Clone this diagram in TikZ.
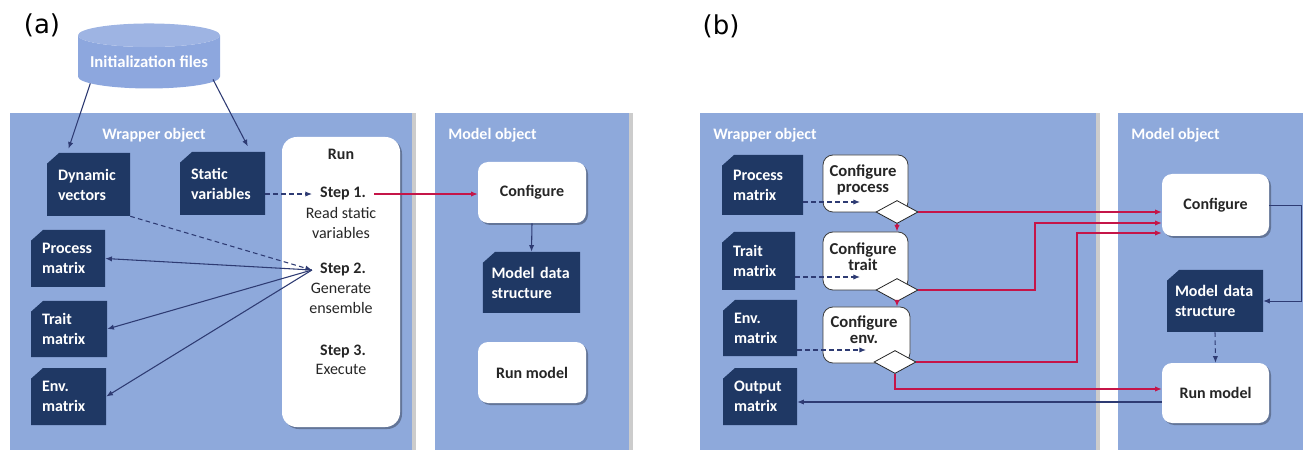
\documentclass[tikz,border=0pt]{standalone}
\usepackage{fontspec}
\setmainfont{Carlito}
\newfontfamily\labelfont{DejaVu Sans}
\usetikzlibrary{shapes.geometric, arrows.meta, positioning, shadows}

\definecolor{panelblue}{HTML}{8EA9DB}
\definecolor{cylblue}{HTML}{8DA7DE}
\definecolor{navybox}{HTML}{1F3864}
\definecolor{navyline}{HTML}{2E3B73}
\definecolor{redline}{HTML}{C51548}
\definecolor{textgray}{HTML}{262626}

\tikzset{
  panel/.style={fill=panelblue, drop shadow={shadow xshift=3pt, shadow yshift=0pt, opacity=.2, fill=black}},
  paneltitle/.style={text=white, font=\bfseries\fontsize{12}{14}\selectfont, inner sep=0pt},
  docbox/.style={rectangle, inner xsep=8.25pt, inner ysep=0pt, align=left, text=white,
    font=\bfseries\fontsize{12}{15}\selectfont,
    path picture={\fill[navybox] (path picture bounding box.south west) -- (path picture bounding box.south east)
      -- (path picture bounding box.north east) -- ([xshift=9pt]path picture bounding box.north west)
      -- ([yshift=-8pt]path picture bounding box.north west) -- cycle;}},
  whitebox/.style={rectangle, rounded corners=7.5pt, fill=white, text=textgray,
    font=\bfseries\fontsize{12}{14}\selectfont,
    drop shadow={shadow xshift=1.5pt, shadow yshift=-1.5pt, opacity=.3, fill=black}},
  initdb/.style={cylinder, shape border rotate=90, aspect=0.2, minimum width=106.5pt, minimum height=48.75pt,
    cylinder uses custom fill, cylinder body fill=cylblue, cylinder end fill=cylblue!85!white,
    text=white, font=\bfseries\fontsize{12.5}{14}\selectfont, inner sep=0pt},
  cfgbox/.style={rectangle, rounded corners=7.5pt, fill=white, draw=textgray!90, line width=0.6pt},
  cfgtext/.style={text=textgray, font=\bfseries\fontsize{12.5}{12}\selectfont, align=center, inner sep=0pt},
  gate/.style={diamond, fill=white, draw=textgray, line width=0.6pt, minimum width=31.5pt,
    minimum height=17.25pt, inner sep=0pt},
  steptitle/.style={text=textgray, font=\bfseries\fontsize{12}{15}\selectfont, inner xsep=6pt, inner ysep=1pt, anchor=base},
  steptext/.style={text=textgray, font=\fontsize{12}{15}\selectfont, align=center, inner sep=0pt, anchor=north},
  navyarrow/.style={navyline, line width=0.8pt, -{Latex[length=5pt,width=4pt]}},
  dasharrow/.style={navyarrow, dash pattern=on 3.5pt off 2.5pt},
  redarrow/.style={redline, line width=0.9pt, -{Latex[length=5pt,width=4pt]}}
}

\begin{document}
\begin{tikzpicture}[x=0.75pt, y=-0.75pt]
    \useasboundingbox (0,0) rectangle (1303,452);

    % Panels
    \fill[panel] (10,113) rectangle (412,450);
    \fill[panel] (435,113) rectangle (629,450);
    \fill[panel] (700,113) rectangle (1096,450);
    \fill[panel] (1118,113) rectangle (1303,450);

    \node[font=\labelfont\fontsize{19.5}{22}\selectfont] (lblA) at (42,25) {(a)};
    \node[font=\labelfont\fontsize{19.5}{22}\selectfont] (lblB) at (721,26) {(b)};

    \node[paneltitle] (wrapA) at (154,135) {Wrapper object};
    \node[paneltitle, anchor=west] (modA) at (448,135) {Model object};
    \node[paneltitle, anchor=west] (wrapB) at (713,135) {Wrapper object};
    \node[paneltitle, anchor=west] (modB) at (1131,135) {Model object};

    % (a) wrapper object
    \node[initdb] (init) at (149,62) {Initialization files};
    \node[docbox, text width=45.75pt, minimum height=47.25pt] (dynvec) at (88.5,184.5) {Dynamic\\vectors};
    \node[docbox, text width=47.25pt, minimum height=47.25pt] (statvar) at (222.5,183.5) {Static\\variables};
    \node[docbox, text width=39pt, minimum height=42.75pt] (procA) at (68,258.5) {Process\\matrix};
    \node[docbox, text width=40.5pt, minimum height=42pt] (traitA) at (69,329) {Trait\\matrix};
    \node[docbox, text width=39.75pt, minimum height=42.75pt] (envA) at (68.5,396.5) {Env.\\matrix};

    \node[whitebox, rounded corners=11pt, minimum width=88.5pt, minimum height=217.5pt] (run) at (341,282) {};
    \node[steptitle] (runtitle) at (341,160) {Run};
    \node[steptitle] (step1) at (343,198) {Step 1.};
    \node[steptext] (step1txt) at (341,207) {Read static\\variables};
    \node[steptitle] (step2) at (343,274) {Step 2.};
    \node[steptext] (step2txt) at (341,283) {Generate\\ensemble};
    \node[steptitle] (step3) at (343,355) {Step 3.};
    \node[steptext] (step3txt) at (341,364) {Execute};

    % (a) model object
    \node[whitebox, minimum width=81pt, minimum height=45.75pt] (cfgA) at (532,192.5) {Configure};
    \node[docbox, text width=60pt, inner xsep=6.4pt, minimum height=45.75pt] (mdsA) at (531.5,282.5) {Model~data\\structure};
    \node[whitebox, minimum width=81pt, minimum height=45.75pt] (runmodA) at (532,372.5) {Run model};

    % (a) connectors
    \draw[navyarrow] ([xshift=-44pt,yshift=4pt]init.south) -- ([xshift=-15pt,yshift=3pt]dynvec.north);
    \draw[navyarrow] ([xshift=48pt,yshift=7pt]init.south) -- ([xshift=19pt,yshift=4pt]statvar.north);
    \draw[dasharrow] (statvar.east |- step1.west) -- (step1.west);
    \draw[dasharrow] (dynvec.south east) -- (step2.west);
    \draw[navyarrow] (step2.west) -- (procA.east);
    \draw[navyarrow] (step2.west) -- (traitA.east);
    \draw[navyarrow] (step2.west) -- (envA.east);
    \draw[redarrow] (step1.east) -- (step1.east -| cfgA.west);
    \draw[navyarrow] (cfgA.south) -- (mdsA.north);

    % (b) wrapper object
    \node[docbox, text width=44.25pt, minimum height=45pt] (procB) at (762.5,185) {Process\\matrix};
    \node[docbox, text width=38.25pt, minimum height=43.5pt] (traitB) at (758.5,261) {Trait\\matrix};
    \node[docbox, text width=39pt, minimum height=42pt] (envB) at (760,328) {Env.\\matrix};
    \node[docbox, text width=39pt, minimum height=42.75pt] (outB) at (760,396.5) {Output\\matrix};

    \node[cfgbox, minimum width=63.75pt, minimum height=42.75pt] (cfgP) at (865.5,183.5) {};
    \node[cfgtext] (cfgPtxt) at (863,180) {Configure\\process};
    \node[cfgbox, minimum width=63.75pt, minimum height=43.5pt] (cfgT) at (865.5,261) {};
    \node[cfgtext] (cfgTtxt) at (863,257) {Configure\\trait};
    \node[cfgbox, minimum width=65.25pt, minimum height=42pt] (cfgE) at (866.5,335) {};
    \node[cfgtext] (cfgEtxt) at (864,330) {Configure\\env.};
    \node[gate] (dP) at (897,212) {};
    \node[gate] (dT) at (897,290) {};
    \node[gate] (dE) at (895,362) {};

    % (b) model object
    \node[whitebox, minimum width=80.25pt, minimum height=46.5pt] (cfgB) at (1215.5,205) {Configure};
    \node[docbox, text width=60pt, inner xsep=6pt, minimum height=46.5pt] (mdsB) at (1215,301) {Model~data\\structure};
    \node[whitebox, minimum width=80.25pt, minimum height=45pt] (runB) at (1215.5,393) {Run model};

    % (b) connectors
    \coordinate (tipP) at (860,202);
    \coordinate (tipT) at (860,277);
    \coordinate (tipE) at (866,350);
    \draw[dasharrow] (procB.east |- tipP) -- (tipP);
    \draw[dasharrow] (traitB.east |- tipT) -- (tipT);
    \draw[dasharrow] (envB.east |- tipE) -- (tipE);

    \draw[redarrow] (dP.south) -- (dP.south |- cfgT.north);
    \draw[redarrow] (dT.south) -- (dT.south |- cfgE.north);

    \coordinate (colT) at (1035,0);
    \coordinate (colE) at (1077,0);
    \coordinate (inT) at ([yshift=-13.5pt]cfgB.west);
    \coordinate (inE) at ([yshift=-21pt]cfgB.west);
    \draw[redarrow] (dP.east) -- (dP.east -| cfgB.west);
    \draw[redarrow] (dT.east) -| (colT |- inT) -- (inT);
    \draw[redarrow] (dE.east) -| (colE |- inE) -- (inE);
    \coordinate (inRun) at ([yshift=3pt]runB.west);
    \draw[redarrow] (dE.south) |- (inRun);

    \coordinate (outRun) at ([yshift=-6.75pt]runB.west);
    \draw[navyarrow] (outRun) -- (outRun -| outB.east);

    \coordinate (edgeR) at (1301,0);
    \draw[navyarrow, line width=0.6pt] (cfgB.east) -- (cfgB.east -| edgeR) |- (mdsB.east);
    \draw[dasharrow] (mdsB.south) -- (runB.north);
\end{tikzpicture}
\end{document}
